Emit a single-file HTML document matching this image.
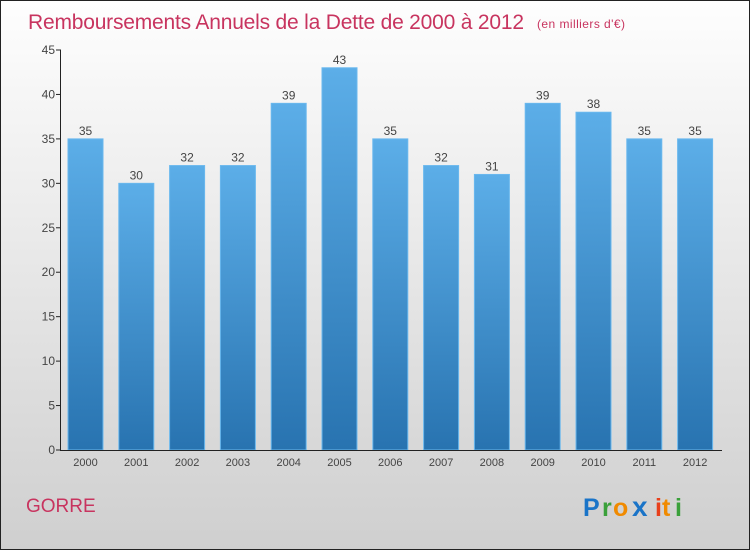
<!DOCTYPE html>
<html><head><meta charset="utf-8"><style>
html,body{margin:0;padding:0;}
body{width:750px;height:550px;overflow:hidden;font-family:"Liberation Sans",sans-serif;}
</style></head><body>
<svg width="750" height="550" xmlns="http://www.w3.org/2000/svg">
<defs>
<linearGradient id="bg" x1="0" y1="0" x2="0" y2="1"><stop offset="0" stop-color="#fefefe"/><stop offset="1" stop-color="#cfcfcf"/></linearGradient>
<linearGradient id="bar" x1="0" y1="0" x2="0" y2="1"><stop offset="0" stop-color="#5caee8"/><stop offset="1" stop-color="#2873b0"/></linearGradient>
</defs>
<rect x="0.5" y="0.5" width="749" height="549" fill="url(#bg)" stroke="#222"/>
<text x="28" y="29" font-size="21" fill="#c8345f" textLength="496">Remboursements Annuels de la Dette de 2000 à 2012</text>
<text x="537" y="28" font-size="12" fill="#c8345f" textLength="88">(en milliers d'€)</text>
<g id="plot"></g>
<text x="26" y="512" font-size="19" fill="#c8345f">GORRE</text>
<g font-size="25" font-weight="bold">
<text x="583" y="516" fill="#1a74c8">P</text><text x="602" y="516" fill="#3aa03a">r</text><text x="613" y="516" fill="#f08a00">o</text><text x="632" y="516" fill="#1a74c8" font-size="28">x</text><text x="655" y="516" fill="#e8401c">i</text><text x="662" y="516" fill="#f08a00">t</text><text x="675" y="516" fill="#3aa03a">i</text>
</g>
</svg>
<script>
const categories=["2000","2001","2002","2003","2004","2005","2006","2007","2008","2009","2010","2011","2012"];
const values=[35,30,32,32,39,43,35,32,31,39,38,35,35];
const yTicks=[0,5,10,15,20,25,30,35,40,45];
const NS="http://www.w3.org/2000/svg";
const g=document.getElementById('plot');
const y=v=>450-v*(400/45);
const x=i=>85.5+i*50.8;
function mk(t,a){const e=document.createElementNS(NS,t);for(const k in a)e.setAttribute(k,a[k]);g.appendChild(e);return e;}
values.forEach((v,i)=>{
 const r=mk('rect',{x:x(i)-17.5,y:y(v),width:35,height:450-y(v),fill:'url(#bar)',stroke:'#6ab8ee','stroke-width':1});
 
 
 const t=mk('text',{x:x(i),y:y(v)-4,'font-size':12,fill:'#444','text-anchor':'middle'});
 t.textContent=v;
 
 
 const c=mk('text',{x:x(i),y:466,'font-size':11,fill:'#444','text-anchor':'middle'});
 c.textContent=categories[i];
 
 
});
yTicks.forEach(v=>{
 const l=mk('line',{x1:56,x2:61,y1:y(v),y2:y(v),stroke:'#222'});
 
 
 const t=mk('text',{x:55,y:y(v)+4,'font-size':12,fill:'#444','text-anchor':'end'});
 t.textContent=v;
 
 
});
const ya=mk('line',{x1:60.5,x2:60.5,y1:50,y2:450,stroke:'#222'});


const xa=mk('line',{x1:60,x2:722,y1:450.5,y2:450.5,stroke:'#222'});


</script>
</body></html>
